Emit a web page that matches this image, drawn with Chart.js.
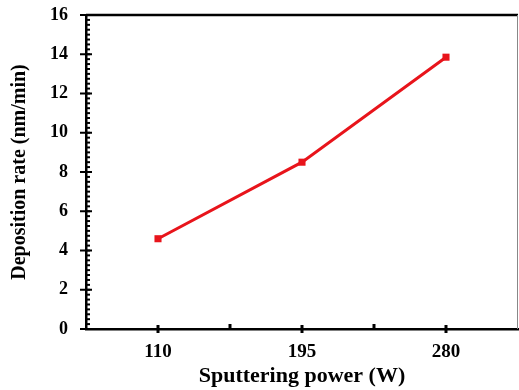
<!DOCTYPE html>
<html><head><meta charset="utf-8">
<script src="https://cdn.jsdelivr.net/npm/chart.js@4/dist/chart.umd.min.js"></script>
<style>html,body{margin:0;padding:0;background:#fff;}#wrap{width:519px;height:390px;}</style>
</head><body><div id="wrap"><canvas id="c"></canvas></div>
<script>
const powers = [110, 195, 280];
const depositionRate = [4.6, 8.5, 13.85];
const yTicks = [0, 2, 4, 6, 8, 10, 12, 14, 16];

const FONT = "'Liberation Serif', 'Times New Roman', serif";

const axisDecor = {
  id: 'axisDecor',
  afterDraw(chart) {
    const {ctx, chartArea: a, scales: {x, y}} = chart;
    ctx.save();
    ctx.strokeStyle = '#000'; ctx.lineWidth = 2.5;
    ctx.beginPath(); ctx.moveTo(a.left, a.top); ctx.lineTo(a.right, a.top); ctx.stroke();
    ctx.strokeStyle = '#888'; ctx.lineWidth = 1;
    ctx.beginPath(); ctx.moveTo(a.right - 0.5, a.top); ctx.lineTo(a.right - 0.5, a.bottom); ctx.stroke();
    ctx.strokeStyle = '#000'; ctx.lineWidth = 2;
    for (let v = 0; v <= 16.001; v += 0.25) {
      const py = y.getPixelForValue(v);
      ctx.beginPath(); ctx.moveTo(a.left, py); ctx.lineTo(a.left + 4, py); ctx.stroke();
    }
    yTicks.forEach(v => {
      const py = y.getPixelForValue(v);
      ctx.beginPath(); ctx.moveTo(a.left - 6, py); ctx.lineTo(a.left + 6, py); ctx.stroke();
    });
    ctx.lineWidth = 3;
    powers.forEach(v => {
      const px = x.getPixelForValue(v);
      ctx.beginPath(); ctx.moveTo(px, a.bottom - 4); ctx.lineTo(px, a.bottom + 4); ctx.stroke();
    });
    for (let i = 0; i < powers.length - 1; i++) {
      const px = x.getPixelForValue((powers[i] + powers[i + 1]) / 2);
      ctx.beginPath(); ctx.moveTo(px, a.bottom); ctx.lineTo(px, a.bottom - 5); ctx.stroke();
    }
    ctx.restore();
  }
};

new Chart(document.getElementById('c'), {
  type: 'line',
  data: {
    datasets: [{
      data: powers.map((p, i) => ({x: p, y: depositionRate[i]})),
      borderColor: '#e8141b',
      backgroundColor: '#e8141b',
      borderWidth: 3,
      pointStyle: 'rect',
      pointRadius: 5,
      pointBorderWidth: 0,
      tension: 0
    }]
  },
  options: {
    responsive: true,
    maintainAspectRatio: false,
    animation: false,
    events: [],
    layout: {autoPadding: false, padding: {top: 15, right: 1, left: 0, bottom: 0}},
    plugins: {legend: {display: false}, tooltip: {enabled: false}},
    scales: {
      x: {
        type: 'linear',
        min: 67.5, max: 322.5,
        afterBuildTicks: s => { s.ticks = powers.map(v => ({value: v})); },
        afterFit: s => { s.height = 61; s.paddingLeft = 0; s.paddingRight = 0; },
        grid: {display: false, drawTicks: true, tickLength: 12},
        border: {display: true, color: '#000', width: 2.5},
        ticks: {color: '#000', padding: 0, font: {family: FONT, size: 19, weight: 'bold'}, maxRotation: 0},
        title: {display: true, text: 'Sputtering power (W)', color: '#000',
          font: {family: FONT, size: 22, weight: 'bold'}, padding: {top: 0, bottom: 0}}
      },
      y: {
        min: 0, max: 16,
        afterBuildTicks: s => { s.ticks = yTicks.map(v => ({value: v})); },
        afterFit: s => { s.width = 86; },
        grid: {display: false, drawTicks: true, tickLength: 18},
        border: {display: true, color: '#000', width: 2.5},
        ticks: {color: '#000', padding: 0, font: {family: FONT, size: 18, weight: 'bold'}},
        title: {display: true, text: 'Deposition rate (nm/min)', color: '#000',
          font: {family: FONT, size: 20, weight: 'bold'}, padding: {top: 8, bottom: 0}}
      }
    }
  },
  plugins: [axisDecor]
});
</script></body></html>
